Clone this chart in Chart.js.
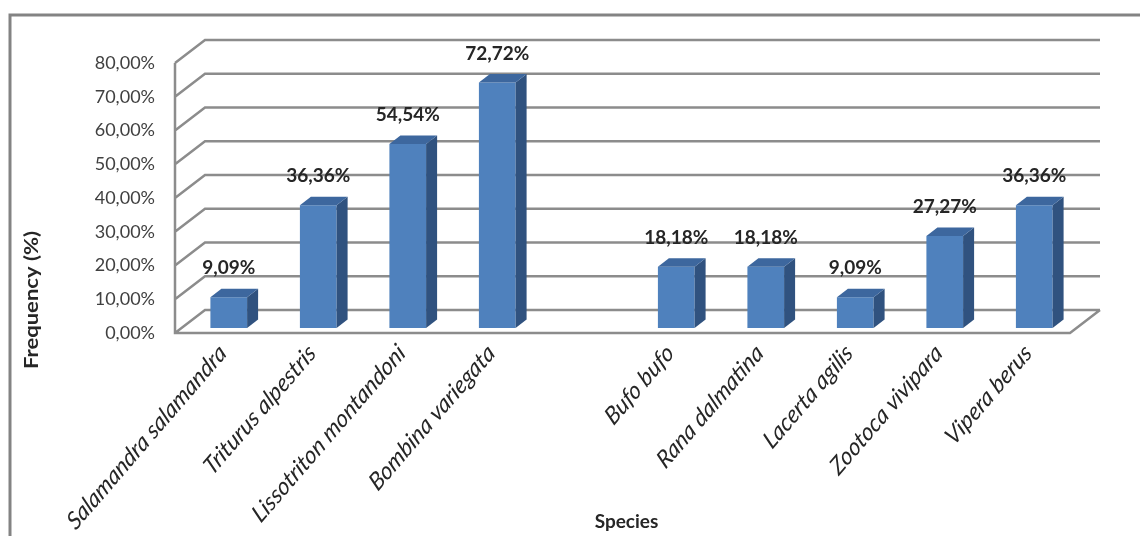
<!DOCTYPE html>
<html>
<head>
<meta charset="utf-8">
<script src="https://cdn.jsdelivr.net/npm/chart.js@4.4.0/dist/chart.umd.min.js"></script>
<style>
body { margin: 0; background: #fff; }
canvas { display: block; }
</style>
</head>
<body>
<canvas id="grafico" width="1140" height="536"></canvas>
<script>
var especies = ["Salamandra salamandra", "Triturus alpestris", "Lissotriton montandoni", "Bombina variegata", "", "Bufo bufo", "Rana dalmatina", "Lacerta agilis", "Zootoca vivipara", "Vipera berus"];
var frequencia = [9.09, 36.36, 54.54, 72.72, null, 18.18, 18.18, 9.09, 27.27, 36.36];
var marcasY = [0, 10, 20, 30, 40, 50, 60, 70, 80];
var tituloX = "Species";
var tituloY = "Frequency (%)";

// profundidade do "3D" (parede do fundo e das barras)
const PROF_X = 30, PROF_Y = 23;
const BARRA_X = 9, BARRA_Y = -5;
const LADO_X = 11, LADO_Y = 8.5;
const ESTICA = 1.16; // a imagem original esta esticada na vertical

function formataPct(v) {
    return v.toFixed(2).replace('.', ',') + '%';
}

const efeito3d = {
    id: 'efeito3d',
    beforeDraw(chart) {
        const ctx = chart.ctx;
        const a = chart.chartArea;
        const y = chart.scales.y;
        ctx.save();
        // moldura
        ctx.strokeStyle = '#838383';
        ctx.lineWidth = 3;
        ctx.beginPath();
        ctx.moveTo(10, chart.height);
        ctx.lineTo(10, 15);
        ctx.lineTo(chart.width, 15);
        ctx.stroke();
        // paredes e linhas de grade
        ctx.strokeStyle = '#8c8c8c';
        ctx.lineWidth = 2.5;
        ctx.beginPath();
        for (const t of y.ticks) {
            const py = y.getPixelForValue(t.value);
            ctx.moveTo(a.left, py);
            ctx.lineTo(a.left + PROF_X, py - PROF_Y);
            ctx.lineTo(a.right + PROF_X, py - PROF_Y);
        }
        ctx.moveTo(a.left, a.top);
        ctx.lineTo(a.left, a.bottom);
        ctx.lineTo(a.right, a.bottom);
        ctx.lineTo(a.right + PROF_X, a.bottom - PROF_Y);
        ctx.stroke();
        ctx.restore();
    },
    beforeDatasetsDraw(chart) {
        chart.ctx.save();
        chart.ctx.translate(BARRA_X, BARRA_Y);
    },
    afterDatasetsDraw(chart) {
        const ctx = chart.ctx;
        const meta = chart.getDatasetMeta(0);
        meta.data.forEach(function (bar, i) {
            if (frequencia[i] == null) return;
            const p = bar.getProps(['x', 'y', 'base', 'width'], true);
            const l = p.x - p.width / 2, r = p.x + p.width / 2;
            // lado
            ctx.fillStyle = '#30527f';
            ctx.beginPath();
            ctx.moveTo(r, p.y);
            ctx.lineTo(r + LADO_X, p.y - LADO_Y);
            ctx.lineTo(r + LADO_X, p.base - LADO_Y);
            ctx.lineTo(r, p.base);
            ctx.closePath();
            ctx.fill();
            // topo
            ctx.fillStyle = '#3d679e';
            ctx.beginPath();
            ctx.moveTo(l, p.y);
            ctx.lineTo(l + LADO_X, p.y - LADO_Y);
            ctx.lineTo(r + LADO_X, p.y - LADO_Y);
            ctx.lineTo(r, p.y);
            ctx.closePath();
            ctx.fill();
            // rotulo
            ctx.fillStyle = '#262626';
            ctx.font = 'bold 19px Lato';
            ctx.textAlign = 'center';
            ctx.textBaseline = 'middle';
            ctx.fillText(formataPct(frequencia[i]), p.x, p.y - 29);
        });
        ctx.restore();
    },
    afterDraw(chart) {
        const ctx = chart.ctx;
        const x = chart.scales.x;
        const a = chart.chartArea;
        ctx.save();
        ctx.fillStyle = '#262626';
        ctx.font = 'italic 21.5px Lato';
        ctx.textAlign = 'right';
        ctx.textBaseline = 'middle';
        especies.forEach(function (nome, i) {
            if (!nome) return;
            ctx.save();
            ctx.translate(x.getPixelForValue(i) + 3, a.bottom + 16);
            ctx.scale(1, ESTICA);
            ctx.rotate(-Math.PI / 4);
            ctx.fillText(nome, 0, 0);
            ctx.restore();
        });
        ctx.font = 'bold 19px Lato';
        ctx.textAlign = 'center';
        ctx.fillText(tituloX, (a.left + a.right) / 2 + 4, 522);
        ctx.translate(32, 300);
        ctx.scale(1, ESTICA);
        ctx.rotate(-Math.PI / 2);
        ctx.fillText(tituloY, 0, 0);
        ctx.restore();
    }
};

const config = {
    type: 'bar',
    data: {
        labels: especies,
        datasets: [{
            data: frequencia,
            backgroundColor: '#4f81bd',
            borderWidth: 0,
            barPercentage: 0.41,
            categoryPercentage: 1,
            clip: false
        }]
    },
    options: {
        responsive: false,
        animation: false,
        devicePixelRatio: 1,
        layout: { padding: { top: 63, right: 70, left: 0, bottom: 0 } },
        plugins: { legend: { display: false }, tooltip: { enabled: false } },
        scales: {
            x: {
                grid: { display: false, drawTicks: false },
                border: { display: false },
                ticks: { display: false },
                afterFit: function (s) { s.height = 203; }
            },
            y: {
                min: 0,
                max: 80,
                grid: { display: false, drawTicks: false },
                border: { display: false },
                ticks: {
                    padding: 20,
                    color: '#404040',
                    font: { family: 'Lato', size: 18 },
                    callback: function (v) { return formataPct(v); }
                },
                afterBuildTicks: function (s) { s.ticks = marcasY.map(function (v) { return { value: v }; }); },
                afterFit: function (s) { s.width = 175; }
            }
        }
    },
    plugins: [efeito3d]
};

new Chart(document.getElementById('grafico'), config);
</script>
</body>
</html>
